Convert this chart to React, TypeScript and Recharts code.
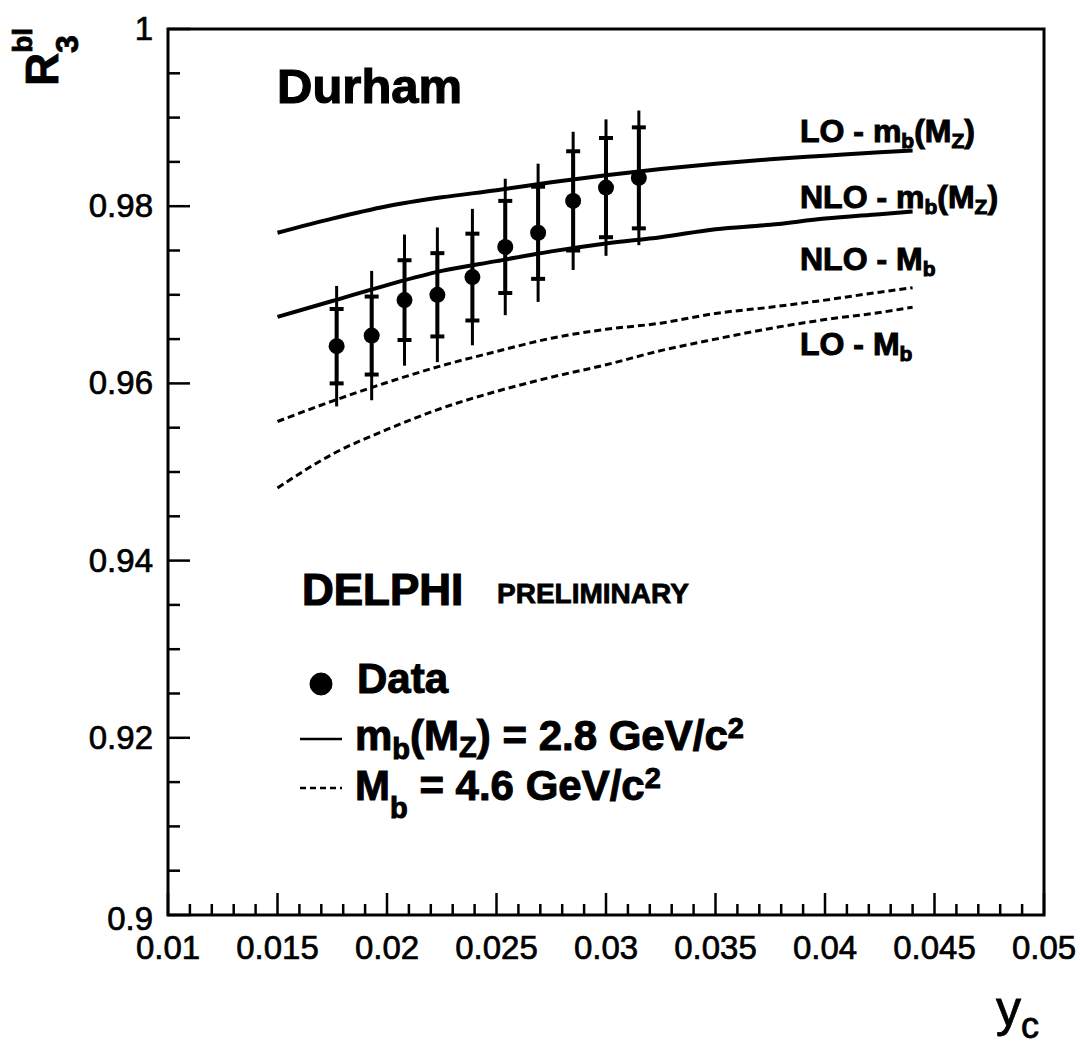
import React from 'react';
import { ComposedChart, Line, Scatter, XAxis, YAxis, ErrorBar, ReferenceArea } from 'recharts';

// Theory curves (y_c grid and R3^bl values)
const curveX = [0.015, 0.0175, 0.02, 0.0225, 0.025, 0.0275, 0.03, 0.0325, 0.035, 0.0375, 0.04, 0.0425, 0.044];
const loMbMz = [0.9770, 0.9786, 0.9800, 0.9810, 0.9818, 0.9827, 0.9835, 0.9842, 0.9848, 0.9853, 0.9857, 0.9861, 0.9863];
const nloMbMz = [0.9675, 0.9693, 0.9711, 0.9727, 0.9738, 0.9749, 0.9758, 0.9765, 0.9774, 0.9779, 0.9786, 0.9791, 0.9794];
const nloMb = [0.9557, 0.9580, 0.9601, 0.9620, 0.9636, 0.9651, 0.9661, 0.9668, 0.9679, 0.9686, 0.9694, 0.9703, 0.9708];
const loMb = [0.9482, 0.9520, 0.9548, 0.9572, 0.9591, 0.9607, 0.9621, 0.9637, 0.9650, 0.9662, 0.9672, 0.9680, 0.9686];

// Data points
const dataX = [0.0177, 0.0193, 0.0208, 0.0223, 0.0239, 0.0254, 0.0269, 0.0285, 0.0300, 0.0315];
const dataY = [0.9642, 0.9654, 0.9694, 0.9700, 0.9720, 0.9754, 0.9770, 0.9806, 0.9821, 0.9832];
const statErr = [0.0042, 0.0044, 0.0045, 0.0047, 0.0049, 0.0052, 0.0052, 0.0056, 0.0056, 0.0057];
const totErr = [0.0068, 0.0073, 0.0074, 0.0076, 0.0077, 0.0077, 0.0078, 0.0078, 0.0077, 0.0076];

// Axis ticks
const xMajorTicks = [0.01, 0.015, 0.02, 0.025, 0.03, 0.035, 0.04, 0.045, 0.05];
const xMajorLabels = ['0.01', '0.015', '0.02', '0.025', '0.03', '0.035', '0.04', '0.045', '0.05'];
const yMajorTicks = [0.9, 0.92, 0.94, 0.96, 0.98, 1];
const yMajorLabels = ['0.9', '0.92', '0.94', '0.96', '0.98', '1'];
const xAllTicks = Array.from({ length: 41 }, (_, i) => Math.round((0.01 + i * 0.001) * 1e6) / 1e6);
const yAllTicks = Array.from({ length: 21 }, (_, i) => Math.round((0.9 + i * 0.005) * 1e6) / 1e6);

const mk = (ys: number[]) => curveX.map((x, i) => ({ x, y: ys[i] }));
const pts = dataX.map((x, i) => ({ x, y: dataY[i], stat: statErr[i], tot: totErr[i] }));

const FONT = '"Liberation Sans", Arial, Helvetica, sans-serif';

const XTick = (props: any) => {
  const { x, y, payload } = props;
  const v = payload.value;
  const idx = xMajorTicks.findIndex((t) => Math.abs(t - v) < 1e-7);
  const major = idx >= 0;
  return (
    <g>
      <line x1={x} x2={x} y1={y} y2={y - (major ? 22 : 11)} stroke="#000" strokeWidth={2.5} />
      {major && (
        <text x={x} y={y + 44} textAnchor="middle" fontFamily={FONT} fontSize={33} fill="#000" stroke="#000" strokeWidth={0.7}>
          {xMajorLabels[idx]}
        </text>
      )}
    </g>
  );
};

const YTick = (props: any) => {
  const { x, y, payload } = props;
  const v = payload.value;
  const idx = yMajorTicks.findIndex((t) => Math.abs(t - v) < 1e-7);
  const major = idx >= 0;
  const dy = v < 0.901 ? 15 : 11;
  return (
    <g>
      <line x1={x} x2={x + (major ? 22 : 12)} y1={y} y2={y} stroke="#000" strokeWidth={2.5} />
      {major && (
        <text x={x - 15} y={y + dy} textAnchor="end" fontFamily={FONT} fontSize={33} fill="#000" stroke="#000" strokeWidth={0.7}>
          {yMajorLabels[idx]}
        </text>
      )}
    </g>
  );
};

const Dot = (props: any) => <circle cx={props.cx} cy={props.cy} r={8} fill="#000" />;

export default function App() {
  return (
    <div style={{ position: 'absolute', left: 0, top: 0, width: 1080, height: 1046, background: '#fff' }}>
      <ComposedChart width={1080} height={1046} margin={{ top: 29, right: 36, bottom: 71, left: 108 }}>
        <XAxis
          dataKey="x"
          type="number"
          domain={[0.01, 0.05]}
          ticks={xAllTicks}
          interval={0}
          tick={XTick}
          tickLine={false}
          axisLine={false}
          tickSize={0}
          tickMargin={0}
          height={60}
          allowDataOverflow
        />
        <YAxis
          dataKey="y"
          type="number"
          domain={[0.9, 1]}
          ticks={yAllTicks}
          interval={0}
          tick={YTick}
          tickLine={false}
          axisLine={false}
          tickSize={0}
          tickMargin={0}
          width={60}
          allowDataOverflow
        />
        <ReferenceArea x1={0.01} x2={0.05} y1={0.9} y2={1} stroke="#000" strokeWidth={3} fill="none" fillOpacity={0} />
        <Line data={mk(loMbMz)} dataKey="y" type="monotone" stroke="#000" strokeWidth={4} dot={false} isAnimationActive={false} />
        <Line data={mk(nloMbMz)} dataKey="y" type="monotone" stroke="#000" strokeWidth={4} dot={false} isAnimationActive={false} />
        <Line data={mk(nloMb)} dataKey="y" type="monotone" stroke="#000" strokeWidth={3} strokeDasharray="7 4" dot={false} isAnimationActive={false} />
        <Line data={mk(loMb)} dataKey="y" type="monotone" stroke="#000" strokeWidth={3} strokeDasharray="7 4" dot={false} isAnimationActive={false} />
        <Scatter data={pts} dataKey="y" shape={Dot} isAnimationActive={false}>
          <ErrorBar dataKey="tot" direction="y" width={0} stroke="#000" strokeWidth={3} />
          <ErrorBar dataKey="stat" direction="y" width={7} stroke="#000" strokeWidth={4} />
        </Scatter>
      </ComposedChart>

      <svg width={1080} height={1046} style={{ position: 'absolute', left: 0, top: 0, pointerEvents: 'none' }}>
        <g fontFamily={FONT} fill="#000" stroke="#000">
          {/* Y-axis title R_3^bl */}
          <text transform="translate(58,86) rotate(-90)" fontSize={46} fontWeight={700} strokeWidth={0.8}>
            R
            <tspan fontSize={28} dy={-26}>bl</tspan>
            <tspan fontSize={32} dx={-25} dy={46}>3</tspan>
          </text>
          {/* X-axis title y_c */}
          <text x={996} y={1026} fontSize={50} strokeWidth={0.8}>
            y<tspan fontSize={36} dy={12}>c</tspan>
          </text>

          <text x={277} y={103} fontSize={49} fontWeight={700} strokeWidth={1.2}>Durham</text>
          <text x={302} y={605} fontSize={44} fontWeight={700} strokeWidth={1.2}>DELPHI</text>
          <text x={497} y={603} fontSize={28} fontWeight={700} strokeWidth={0.8}>PRELIMINARY</text>

          {/* Curve labels */}
          <g fontSize={32} fontWeight={700} strokeWidth={1}>
            <text x={800} y={142}>
              LO - m<tspan fontSize={21} dy={6}>b</tspan><tspan dy={-6}>(M</tspan><tspan fontSize={21} dy={6}>Z</tspan><tspan dy={-6}>)</tspan>
            </text>
            <text x={800} y={208}>
              NLO - m<tspan fontSize={21} dy={6}>b</tspan><tspan dy={-6}>(M</tspan><tspan fontSize={21} dy={6}>Z</tspan><tspan dy={-6}>)</tspan>
            </text>
            <text x={800} y={270}>
              NLO - M<tspan fontSize={21} dy={6}>b</tspan>
            </text>
            <text x={800} y={355}>
              LO - M<tspan fontSize={21} dy={6}>b</tspan>
            </text>
          </g>

          {/* Legend */}
          <circle cx={321} cy={684} r={11} />
          <line x1={300} x2={342} y1={739} y2={739} stroke="#000" strokeWidth={2.5} />
          <line x1={300} x2={342} y1={788} y2={788} stroke="#000" strokeWidth={2.5} strokeDasharray="6 4" />
          <g fontSize={42} fontWeight={700} strokeWidth={1}>
            <text x={357} y={693}>Data</text>
            <text x={355} y={750}>
              m<tspan fontSize={29} dy={9}>b</tspan><tspan dy={-9}>(M</tspan><tspan fontSize={29} dy={7}>Z</tspan><tspan dy={-7}>) = 2.8 GeV/c</tspan><tspan fontSize={29} dy={-12}>2</tspan>
            </text>
            <text x={355} y={800}>
              M<tspan fontSize={29} dy={18}>b</tspan><tspan dy={-18}> = 4.6 GeV/c</tspan><tspan fontSize={29} dy={-12}>2</tspan>
            </text>
          </g>
        </g>
      </svg>
    </div>
  );
}
